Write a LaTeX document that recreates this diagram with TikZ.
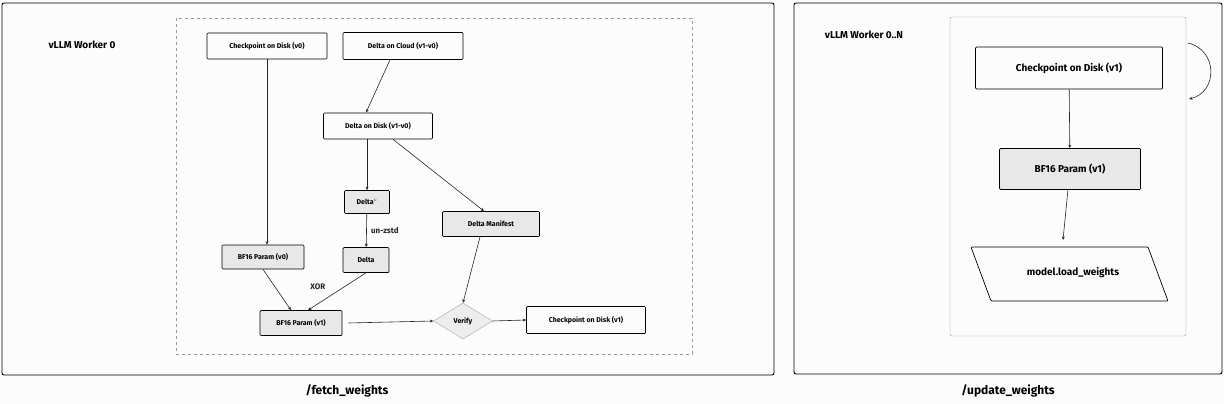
\documentclass[tikz,border=0pt]{standalone}
\usepackage{fontspec}
\setmainfont{Fira Sans}
\usetikzlibrary{shapes.geometric,arrows.meta,positioning}
\tikzset{
  box/.style={draw,line width=0.7pt,rounded corners=1pt,font=\fontsize{7}{8}\selectfont\bfseries,inner sep=0pt},
  param/.style={box,fill=black!9},
  bigbox/.style={draw,line width=0.7pt,rounded corners=1pt,font=\fontsize{10}{11}\selectfont\bfseries,inner sep=0pt},
  lbl/.style={font=\fontsize{8}{9}\selectfont\bfseries},
  arr/.style={-{Stealth[length=3.5pt,width=3pt]},black!85,line width=0.6pt}
}
\begin{document}
\begin{tikzpicture}[x=1pt,y=-1pt]
  \useasboundingbox[fill=black!1] (0,0) rectangle (1224,404);
  % left panel
  \draw[rounded corners=2pt,line width=0.9pt] (2,3) rectangle (774,375);
  \draw[black!40,dashed] (176,18) rectangle (692,354);
  \node[font=\fontsize{10}{11}\selectfont\bfseries] (tl) at (82,45) {vLLM Worker 0};
  \node[font=\fontsize{12}{13}\selectfont\bfseries] (fl) at (347,391) {/fetch\_weights};
  \node[box,minimum width=120,minimum height=26] (ckz) at (267,46) {Checkpoint on Disk (v0)};
  \node[box,minimum width=120,minimum height=27] (cloud) at (403,46) {Delta on Cloud (v1-v0)};
  \node[box,minimum width=109,minimum height=26] (disk) at (378,126) {Delta on Disk (v1-v0)};
  \node[param,minimum width=45,minimum height=23] (dc) at (367,202) {Delta$^{c}$};
  \node[param,minimum width=97,minimum height=25] (man) at (491,224) {Delta Manifest};
  \node[param,minimum width=82,minimum height=24] (bfz) at (263,257) {BF16 Param (v0)};
  \node[param,minimum width=46,minimum height=25] (dl) at (366,260) {Delta};
  \node[param,minimum width=82,minimum height=25] (bfo) at (301,323) {BF16 Param (v1)};
  \node[diamond,draw=black!35,fill=black!7,aspect=1.65,inner sep=0pt,minimum width=59,minimum height=36,font=\fontsize{7}{8}\selectfont\bfseries] (ver) at (463,321) {Verify};
  \node[box,minimum width=119,minimum height=27] (cko) at (586,320) {Checkpoint on Disk (v1)};
  \draw[arr] (ckz) -- (ckz |- bfz.north);
  \draw[arr] (cloud.south) ++(-13,0) -- ([xshift=-12pt]disk.north);
  \draw[arr] (disk.south -| dc) -- (dc.north);
  \draw[arr] ([xshift=15pt]disk.south) -- ([xshift=-7pt]man.north);
  \draw[arr] (dc) -- node[right,lbl,xshift=1pt] {un-zstd} (dl);
  \draw[arr] (bfz.south) -- ([xshift=-10pt]bfo.north);
  \draw[arr] (dl.south) -- node[above left,lbl,xshift=-8pt,yshift=-2pt] {XOR} ([xshift=7pt]bfo.north);
  \draw[arr] (bfo.east) ++(6,0) -- (ver.west);
  \draw[arr] ([xshift=-11pt]man.south) -- (ver.north);
  \draw[arr] (ver.east) -- (cko.west);
  % right panel
  \draw[rounded corners=2pt,line width=0.9pt] (794,3) rectangle (1222,374);
  \draw[black!40,rounded corners=2pt] (950,17) rectangle (1186,336);
  \node[font=\fontsize{10}{11}\selectfont\bfseries] (tr) at (864,35) {vLLM Worker 0..N};
  \node[font=\fontsize{12}{13}\selectfont\bfseries] (fr) at (1008,391) {/update\_weights};
  \node[bigbox,minimum width=187,minimum height=42] (ckr) at (1069,68) {Checkpoint on Disk (v1)};
  \node[bigbox,fill=black!9,minimum width=141,minimum height=41] (bfr) at (1070,169) {BF16 Param (v1)};
  \node[font=\fontsize{10}{11}\selectfont\bfseries] (load) at (1073,273) {model.load\_weights};
  \draw[line width=0.7pt,rounded corners=1pt] (971,247) -- (1148,247) -- (1168,301) -- (991,301) -- cycle;
  \draw[arr] (ckr) -- (bfr);
  \draw[arr] (bfr) -- (1063,240);
  \coordinate (la) at (1188,43);
  \coordinate (lb) at (1189,99);
  \draw[arr] (la) .. controls (1218,50) and (1218,92) .. (lb);
\end{tikzpicture}
\end{document}
